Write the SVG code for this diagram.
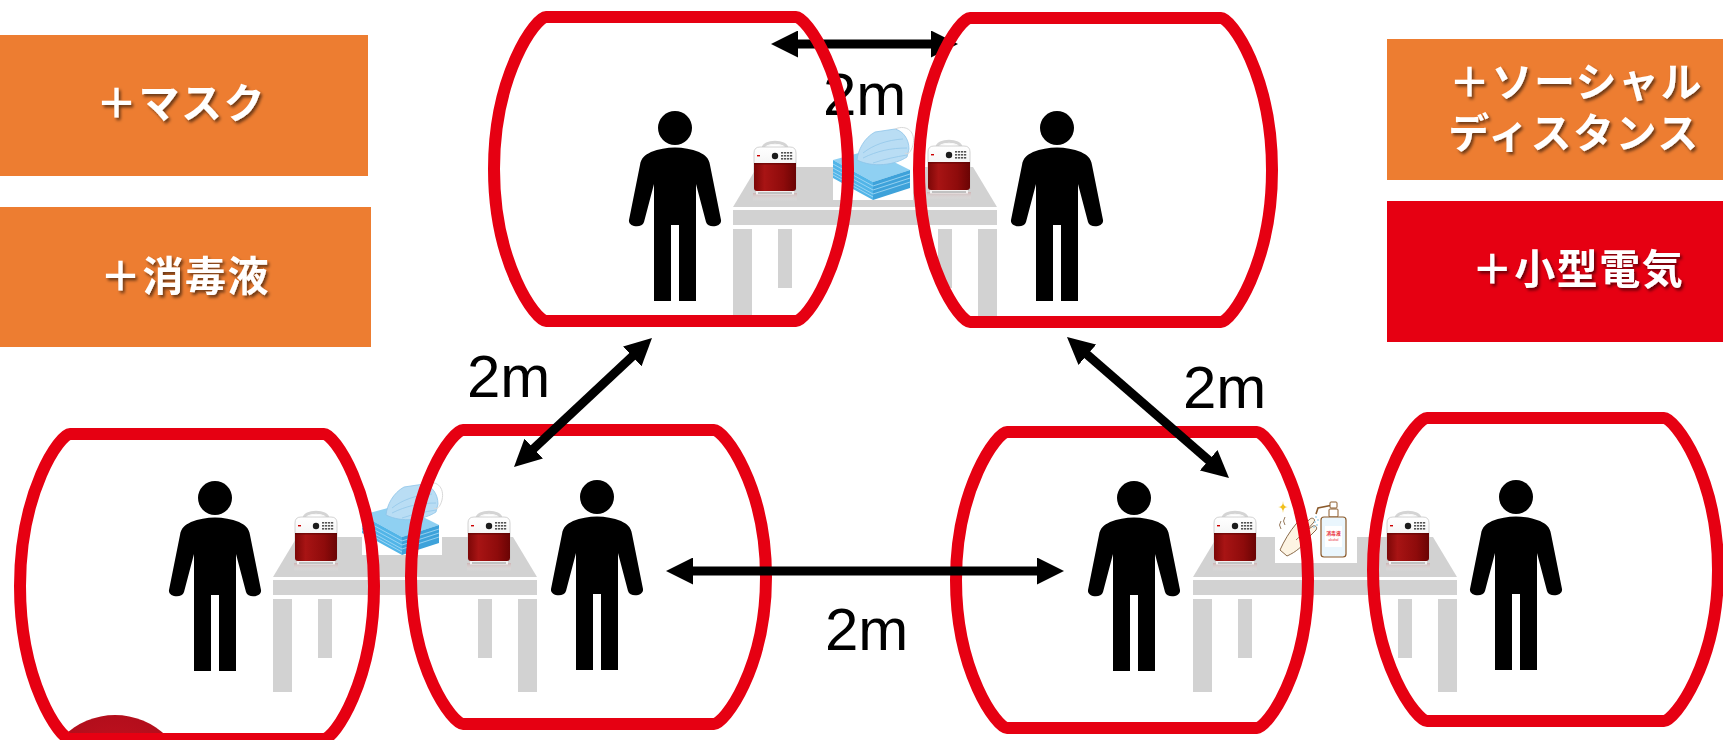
<svg xmlns="http://www.w3.org/2000/svg" xmlns:xlink="http://www.w3.org/1999/xlink" width="1723" height="740" viewBox="0 0 1723 740">
  <style>
    .label-orange { fill: #ed7d31; }
    .label-red { fill: #e60012; }
    .label-text { font-family: "Noto Sans CJK JP", "Noto Sans", sans-serif; font-weight: 700; font-size: 41px; letter-spacing: 1.5px; fill: #ffffff; text-anchor: middle; filter: url(#textShadow); }
    .zone { fill: none; stroke: #e60012; stroke-width: 12; stroke-linejoin: round; }
    .dist { stroke: #000; stroke-width: 9; fill: none; marker-start: url(#arrowHead); marker-end: url(#arrowHead); }
    .dist-label { font-family: "Liberation Sans", Arial, sans-serif; font-size: 60px; fill: #000; }
    .tbl { fill: #d2d2d2; }
  </style>
  <defs>
    <filter id="textShadow" x="-10%" y="-20%" width="130%" height="160%">
      <feDropShadow dx="2" dy="2.5" stdDeviation="1.4" flood-color="#000" flood-opacity="0.55"/>
    </filter>
    <marker id="arrowHead" markerUnits="userSpaceOnUse" viewBox="0 0 27 27" markerWidth="27" markerHeight="27" refX="1" refY="13.5" orient="auto-start-reverse">
      <path d="M0,0 L27,13.5 L0,27 Z" fill="#000"/>
    </marker>
    <linearGradient id="psRed" x1="0" y1="0" x2="1" y2="0">
      <stop offset="0" stop-color="#7c0707"/>
      <stop offset="0.25" stop-color="#a81414"/>
      <stop offset="0.7" stop-color="#8e0b0b"/>
      <stop offset="1" stop-color="#6a0404"/>
    </linearGradient>
    <linearGradient id="psWhite" x1="0" y1="0" x2="0" y2="1">
      <stop offset="0" stop-color="#ffffff"/>
      <stop offset="1" stop-color="#e4e4e4"/>
    </linearGradient>
    <linearGradient id="psRefl" x1="0" y1="0" x2="0" y2="1">
      <stop offset="0" stop-color="#c99a9a" stop-opacity="0.55"/>
      <stop offset="1" stop-color="#ffffff" stop-opacity="0"/>
    </linearGradient>
    <radialGradient id="dotRed" cx="0.5" cy="0.4" r="0.6">
      <stop offset="0" stop-color="#c8121f"/>
      <stop offset="1" stop-color="#a90c1a"/>
    </radialGradient>

    <!-- pedestrian pictogram, origin at the head centre -->
    <symbol id="person" overflow="visible">
      <circle cx="0" cy="0" r="17" fill="#000"/>
      <path fill="#000" d="M-4,173 L-4,97 L4,97 L4,173 L21,173 L21,56 L31,94 C33,101 47,99 46,92 L35,37 C34,30 30,27 24,24 C9,18 -9,18 -24,24 C-30,27 -34,30 -35,37 L-46,92 C-47,99 -33,101 -31,94 L-21,56 L-21,173 Z"/>
    </symbol>

    <!-- folding table, origin at the back-left of the top -->
    <symbol id="table" overflow="visible">
      <path class="tbl" d="M24,0 H240 L264,40 H0 Z"/>
      <rect class="tbl" x="0" y="43" width="264" height="15"/>
      <rect class="tbl" x="0" y="62" width="19" height="93"/>
      <rect class="tbl" x="245" y="62" width="19" height="93"/>
      <rect class="tbl" x="45" y="62" width="14" height="59"/>
      <rect class="tbl" x="205" y="62" width="14" height="59"/>
    </symbol>

    <!-- portable power station, 50 x 60 -->
    <symbol id="powerStation" overflow="visible">
      <rect x="3" y="53" width="44" height="8" fill="url(#psRefl)"/>
      <path d="M13,9 C13,0 37,0 37,9" fill="none" stroke="#d4d4d4" stroke-width="3.2"/>
      <path d="M15,9 C15,3 35,3 35,9" fill="none" stroke="#f7f7f7" stroke-width="1.2"/>
      <path d="M4,13 Q4,7 10,7 H40 Q46,7 46,13 V50 H4 Z" fill="url(#psWhite)" stroke="#c6c6c6" stroke-width="0.8"/>
      <path d="M4,23 H46 V48 Q46,51 43,51 H7 Q4,51 4,48 Z" fill="url(#psRed)"/>
      <rect x="4" y="23" width="42" height="1.5" fill="#5a0303" opacity="0.6"/>
      <rect x="6" y="51" width="38" height="3.5" fill="#f2f2f2"/>
      <line x1="8" y1="53" x2="42" y2="53" stroke="#777" stroke-width="0.8"/>
      <circle cx="25" cy="16" r="3.2" fill="#1a1a1a"/>
      <g fill="#555">
        <rect x="31" y="12" width="2.2" height="1.6"/><rect x="34" y="12" width="2.2" height="1.6"/><rect x="37" y="12" width="2.2" height="1.6"/><rect x="40" y="12" width="2.2" height="1.6"/>
        <rect x="31" y="15" width="2.2" height="1.6"/><rect x="34" y="15" width="2.2" height="1.6"/><rect x="37" y="15" width="2.2" height="1.6"/><rect x="40" y="15" width="2.2" height="1.6"/>
        <rect x="31" y="18" width="2.2" height="1.6"/><rect x="34" y="18" width="2.2" height="1.6"/><rect x="37" y="18" width="2.2" height="1.6"/><rect x="40" y="18" width="2.2" height="1.6"/>
      </g>
      <rect x="7" y="15" width="3" height="1.4" fill="#c00"/>
    </symbol>

    <!-- box of disposable masks with one mask on top, 80 x 77 -->
    <symbol id="maskBox" overflow="visible">
      <rect x="0" y="34" width="80" height="43" fill="#ffffff"/>
      <path d="M0,37 L37,27 L77,47 L40,59 Z" fill="#8fd0f2"/>
      <path d="M0,37 L40,59 L40,77 L0,55 Z" fill="#52b5e8"/>
      <path d="M40,59 L77,47 L77,65 L40,77 Z" fill="#3ea2da"/>
      <g stroke="#a9dcf6" stroke-width="0.8" fill="none">
        <path d="M0,41 L40,63"/><path d="M0,45 L40,67"/><path d="M0,49 L40,71"/><path d="M0,52 L40,74"/>
        <path d="M40,63 L77,51"/><path d="M40,67 L77,55"/><path d="M40,71 L77,59"/>
      </g>
      <path d="M24,37 C25,27 31,15 42,9 L62,6 C70,8 76,16 76,26 L74,34 C62,42 40,45 24,37 Z" fill="#b9ddf4" stroke="#8ec4e8" stroke-width="0.8"/>
      <g stroke="#8ec4e8" stroke-width="0.7" fill="none">
        <path d="M30,30 C40,22 54,17 70,16"/><path d="M30,35 C44,28 58,25 74,25"/><path d="M40,40 C52,36 62,34 74,32"/>
      </g>
      <path d="M62,6 C74,1 83,9 80,22 C78,30 74,32 72,30" fill="none" stroke="#d8d8d8" stroke-width="1"/>
    </symbol>
  </defs>

  <rect width="1723" height="740" fill="#ffffff"/>

  <!-- measure labels -->
  <g id="label-mask">
    <rect class="label-orange" x="0" y="35" width="368" height="141"/>
    <text class="label-text" x="181" y="118">＋マスク</text>
  </g>
  <g id="label-disinfectant">
    <rect class="label-orange" x="0" y="207" width="371" height="140"/>
    <text class="label-text" x="185" y="291">＋消毒液</text>
  </g>
  <g id="label-distance">
    <rect class="label-orange" x="1387" y="39" width="340" height="141"/>
    <text class="label-text" x="1576" y="97">＋ソーシャル</text>
    <text class="label-text" x="1574" y="148">ディスタンス</text>
  </g>
  <g id="label-power">
    <rect class="label-red" x="1387" y="201" width="340" height="141"/>
    <text class="label-text" x="1578" y="284">＋小型電気</text>
  </g>

  <!-- corner badge -->
  <circle id="badge" cx="115" cy="788" r="73" fill="url(#dotRed)"/>

  <!-- tables -->
  <g id="tables">
    <use id="table-top" href="#table" x="733" y="167"/>
    <use id="table-bottom-left" href="#table" x="273" y="537"/>
    <use id="table-bottom-right" href="#table" x="1193" y="537"/>
  </g>

  <!-- items on the tables -->
  <g id="equipment">
    <use href="#powerStation" x="750" y="140"/>
    <use href="#powerStation" x="924" y="139"/>
    <use href="#powerStation" x="291" y="510"/>
    <use href="#powerStation" x="464" y="510"/>
    <use href="#powerStation" x="1210" y="510"/>
    <use href="#powerStation" x="1383" y="510"/>
    <use href="#maskBox" x="833" y="123"/>
    <use href="#maskBox" x="362" y="478"/>

    <g id="sanitizer">
      <rect x="1275" y="500" width="82" height="63" fill="#ffffff"/>
      <!-- hands being rubbed -->
      <path d="M1280,550 C1284,541 1290,531 1296,524 L1302,517 C1304,514 1308,516 1306,520 L1300,528 L1310,519 C1312,517 1316,519 1314,522 L1306,531 L1313,526 C1315,525 1318,527 1316,530 L1307,539 C1303,546 1296,552 1287,556 Z" fill="#fdf4e3" stroke="#8a6a4a" stroke-width="1"/>
      <path d="M1296,540 C1300,536 1304,533 1309,531" fill="none" stroke="#8a6a4a" stroke-width="0.8"/>
      <path d="M1281,521 q-3,4 0,8 M1285,517 q-3,4 0,8" fill="none" stroke="#8a6a4a" stroke-width="0.9"/>
      <path d="M1283,501 Q1283,507 1288,507 Q1283,507 1283,513 Q1283,507 1278,507 Q1283,507 1283,501 Z" fill="#f2c01c"/>
      <path d="M1297,508 Q1297,513 1301,513 Q1297,513 1297,518 Q1297,513 1293,513 Q1297,513 1297,508 Z" fill="#f2c01c"/>
      <!-- spray -->
      <g fill="#9fd3ee">
        <circle cx="1316" cy="517" r="0.9"/><circle cx="1318" cy="520" r="0.9"/><circle cx="1315" cy="522" r="0.9"/><circle cx="1317" cy="525" r="0.9"/><circle cx="1314" cy="527" r="0.9"/>
      </g>
      <!-- pump bottle -->
      <path d="M1333,505 L1318,508 L1316,514" fill="none" stroke="#8b5a2b" stroke-width="1.6"/>
      <rect x="1330" y="502" width="7" height="6" rx="1" fill="#fff" stroke="#8b5a2b" stroke-width="1"/>
      <rect x="1329" y="509" width="9" height="8" rx="1" fill="#fff" stroke="#8b5a2b" stroke-width="1"/>
      <rect x="1321" y="517" width="25" height="40" rx="3" fill="#eaf6fd" stroke="#8b5a2b" stroke-width="1.2"/>
      <rect x="1325" y="526" width="17" height="21" fill="#ffffff"/>
      <text x="1333.5" y="535" font-family="Noto Sans CJK JP, sans-serif" font-size="4.8" font-weight="700" fill="#e8242f" text-anchor="middle">消毒液</text>
      <text x="1333.5" y="541" font-family="Liberation Sans, sans-serif" font-size="3.2" fill="#e8242f" text-anchor="middle">alcohol</text>
    </g>
  </g>

  <!-- distance marker drawn beneath the upper zones -->
  <g id="connectors-upper">
    <line class="dist" x1="797" y1="44" x2="932" y2="44"/>
    <text class="dist-label" x="823" y="115">2m</text>
  </g>

  <!-- personal zones: one person per zone -->
  <g id="zone-1">
    <use href="#person" x="675" y="128"/>
    <path class="zone" d="M546,17 H796 C806,17 848,74 848,169 C848,264 806,321 796,321 H546 C536,321 494,264 494,169 C494,74 536,17 546,17 Z"/>
  </g>
  <g id="zone-2">
    <use href="#person" x="1057" y="128"/>
    <path class="zone" d="M970,18 H1221 C1231,18 1272,75 1272,170 C1272,265 1231,322 1221,322 H970 C960,322 919,265 919,170 C919,75 960,18 970,18 Z"/>
  </g>
  <g id="zone-3">
    <use href="#person" x="215" y="498"/>
    <path class="zone" d="M70,434 H324 C334,434 374,491 374,586 C374,682 334,739 324,739 H70 C60,739 20,682 20,586 C20,491 60,434 70,434 Z"/>
  </g>
  <g id="zone-4">
    <use href="#person" x="597" y="497"/>
    <path class="zone" d="M463,430 H714 C724,430 766,485 766,577 C766,669 724,724 714,724 H463 C453,724 411,669 411,577 C411,485 453,430 463,430 Z"/>
  </g>
  <g id="zone-5">
    <use href="#person" x="1134" y="498"/>
    <path class="zone" d="M1007,432 H1257 C1267,432 1308,488 1308,580 C1308,672 1267,728 1257,728 H1007 C997,728 956,672 956,580 C956,488 997,432 1007,432 Z"/>
  </g>
  <g id="zone-6">
    <use href="#person" x="1516" y="497"/>
    <path class="zone" d="M1427,418 H1664 C1674,418 1718,475 1718,570 C1718,664 1674,721 1664,721 H1427 C1417,721 1373,664 1373,570 C1373,475 1417,418 1427,418 Z"/>
  </g>

  <!-- distance markers between zones -->
  <g id="connectors">
    <line class="dist" x1="633" y1="355.8" x2="533" y2="449.2"/>
    <text class="dist-label" x="467" y="397">2m</text>
    <line class="dist" x1="1086.6" y1="354.1" x2="1209.4" y2="460.9"/>
    <text class="dist-label" x="1183" y="408">2m</text>
    <line class="dist" x1="692" y1="571" x2="1038" y2="571"/>
    <text class="dist-label" x="825" y="650">2m</text>
  </g>
</svg>
